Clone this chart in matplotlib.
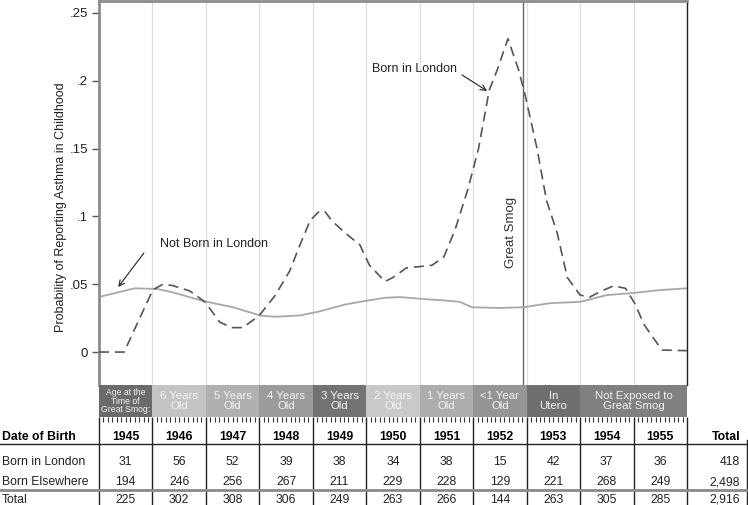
import numpy as np
import matplotlib
matplotlib.use("Agg")
from matplotlib import pyplot as plt

plt.rcParams['font.family'] = ['Liberation Sans', 'DejaVu Sans']

# Born in London (dashed)
london_x = [1945.0, 1945.47, 1945.75, 1946.01, 1946.2, 1946.38, 1946.7, 1946.98, 1947.26, 1947.49,
            1947.69, 1948.0, 1948.3, 1948.57, 1948.76, 1948.95, 1949.1, 1949.22, 1949.35, 1949.6,
            1949.88, 1950.06, 1950.35, 1950.5, 1950.75, 1951.0, 1951.23, 1951.45, 1951.66, 1951.9,
            1952.1, 1952.3, 1952.45, 1952.65, 1952.85, 1952.98, 1953.2, 1953.37, 1953.57, 1953.76,
            1954.0, 1954.18, 1954.4, 1954.62, 1954.85, 1955.02, 1955.2, 1955.53, 1956.0]
london_y = [0.0, 0.0, 0.024, 0.046, 0.050, 0.049, 0.045, 0.037, 0.022, 0.018,
            0.018, 0.027, 0.042, 0.060, 0.079, 0.097, 0.103, 0.104, 0.097, 0.088,
            0.079, 0.064, 0.052, 0.055, 0.062, 0.063, 0.064, 0.070, 0.090, 0.120,
            0.150, 0.193, 0.208, 0.231, 0.208, 0.188, 0.149, 0.112, 0.088, 0.055,
            0.042, 0.0405, 0.045, 0.0487, 0.047, 0.036, 0.020, 0.0015, 0.001]

# Not born in London (solid)
other_x = [1945.0, 1945.67, 1946.09, 1946.38, 1946.95, 1947.51, 1948.01, 1948.29, 1948.76, 1949.13,
           1949.6, 1949.88, 1950.35, 1950.63, 1951.1, 1951.47, 1951.75, 1951.98, 1952.5, 1952.93,
           1953.44, 1954.0, 1954.5, 1954.99, 1955.5, 1956.0]
other_y = [0.0406, 0.047, 0.0465, 0.044, 0.0376, 0.033, 0.027, 0.026, 0.027, 0.030,
           0.035, 0.037, 0.040, 0.0405, 0.039, 0.038, 0.037, 0.033, 0.0325, 0.033,
           0.036, 0.037, 0.042, 0.0435, 0.0457, 0.047]

years = list(range(1945, 1956))
born_london = [31, 56, 52, 39, 38, 34, 38, 15, 42, 37, 36]
born_elsewhere = [194, 246, 256, 267, 211, 229, 228, 129, 221, 268, 249]
totals = [225, 302, 308, 306, 249, 263, 266, 144, 263, 305, 285]
row_totals = ["418", "2,498", "2,916"]

# age bands: (start, end, label, colour)
band_start = [1945, 1946, 1947, 1948, 1949, 1950, 1951, 1952, 1953, 1954]
band_end = [1946, 1947, 1948, 1949, 1950, 1951, 1952, 1953, 1954, 1956]
band_label = ["Age at the\nTime of\nGreat Smog:", "6 Years\nOld", "5 Years\nOld", "4 Years\nOld",
              "3 Years\nOld", "2 Years\nOld", "1 Years\nOld", "<1 Year\nOld", "In\nUtero",
              "Not Exposed to\nGreat Smog"]
band_color = ['#6b6b6b', '#c4c4c4', '#b0b0b0', '#9b9b9b', '#737373', '#c9c9c9', '#adadad',
              '#959595', '#6f6f6f', '#808080']

smog_date = 1952.94

W, H = 748, 505
fig = plt.figure(figsize=(W / 100, H / 100), dpi=100)

# main plot
ax = fig.add_axes([99 / W, (H - 385) / H, 588 / W, 384 / H])
ax.set_xlim(1945, 1956)
ax.set_ylim(-0.0243, 0.2588)
for yr in range(1946, 1956):
    ax.axvline(yr, color='#dddddd', lw=0.9, zorder=0)
ax.axvline(smog_date, color='#666666', lw=1.0, zorder=1)
ax.text(smog_date - 0.23, 0.0885, "Great Smog", rotation=90, ha='center', va='center',
        fontsize=9.5, color='#333333')

ax.plot(other_x, other_y, color='#a8a8a8', lw=1.3, zorder=2)
ax.plot(london_x, london_y, color='#555555', lw=1.2, dashes=(6, 3.5), zorder=3)

arrow = dict(arrowstyle='->', color='#222222', lw=0.8, shrinkA=0, shrinkB=0)
ax.text(1950.11, 0.2085, "Born in London", fontsize=9, color='#222222', va='center', ha='left')
ax.annotate("", xy=(1952.26, 0.1925), xytext=(1951.79, 0.2043), arrowprops=arrow)
ax.text(1946.14, 0.0795, "Not Born in London", fontsize=9, color='#222222', va='center', ha='left')
ax.annotate("", xy=(1945.36, 0.048), xytext=(1945.84, 0.073), arrowprops=arrow)

ax.set_yticks([0, 0.05, 0.1, 0.15, 0.2, 0.25])
ax.set_yticklabels(["0", ".05", ".1", ".15", ".2", ".25"])
ax.tick_params(axis='y', length=5, width=1, color='#555555', labelsize=9.5, labelcolor='#222222', pad=3)
ax.set_xticks([])
ax.set_ylabel("Probability of Reporting Asthma in Childhood", fontsize=9, color='#222222')
ax.yaxis.set_label_coords(-0.054, 0.464)
ax.spines['left'].set_color('#8c8c8c')
ax.spines['left'].set_linewidth(2)
ax.spines['top'].set_color('#8c8c8c')
ax.spines['top'].set_linewidth(2)
ax.spines['right'].set_color('#222222')
ax.spines['right'].set_linewidth(1)
ax.spines['bottom'].set_visible(False)

# age band strip
bx = fig.add_axes([99 / W, (H - 417) / H, 588 / W, 32 / H])
bx.set_xlim(1945, 1956)
bx.set_ylim(0, 1)
for s, e, lab, c in zip(band_start, band_end, band_label, band_color):
    bx.bar(s, 1, width=e - s, align='edge', color=c, edgecolor='none')
    small = lab.startswith("Age")
    bx.text((s + e) / 2, 0.5, lab, ha='center', va='center', color='#f4f4f4',
            fontsize=6.2 if small else 8.2, linespacing=0.95 if small else 1.0)
months = [y + m / 12 for y in range(1945, 1956) for m in range(1, 12)]
bx.set_xticks(months, minor=True)
bx.set_xticks([])
bx.tick_params(axis='x', which='minor', length=3.5, width=0.8, color='#333333', direction='out')
bx.set_yticks([])
for sp in bx.spines.values():
    sp.set_visible(False)

# table below
tx = fig.add_axes([0, 0, 1, 88 / H])
px_per_year = 588 / 11
tx.set_xlim(1945 - 99 / px_per_year, 1956 + (W - 687) / px_per_year)
tx.set_ylim(H, 417)
tx.axis('off')
for yr in range(1945, 1957):
    tx.plot([yr, yr], [417, H], color='#222222', lw=1, solid_capstyle='butt')
right_edge = 1956 + (W - 1.5 - 687) / px_per_year
tx.plot([right_edge, right_edge], [440, H], color='#222222', lw=1)
left_edge = 1945 - 99 / px_per_year
tx.plot([left_edge, right_edge + 0.03], [444, 444], color='#222222', lw=1)
tx.plot([left_edge, right_edge + 0.03], [490, 490], color='#8a8a8a', lw=2)

fs = 8.8
r_year, r_lon, r_else, r_tot = 437.5, 462.5, 482.5, 500
tx.text(left_edge + 0.03, r_year, "Date of Birth", fontweight='bold', fontsize=fs, va='center', ha='left')
tx.text(left_edge + 0.03, r_lon, "Born in London", fontsize=fs, va='center', ha='left', color='#222222')
tx.text(left_edge + 0.03, r_else, "Born Elsewhere", fontsize=fs, va='center', ha='left', color='#222222')
tx.text(left_edge + 0.03, r_tot, "Total", fontsize=fs, va='center', ha='left', color='#222222')
for i, yr in enumerate(years):
    cx = yr + 0.5
    tx.text(cx, r_year, str(yr), fontweight='bold', fontsize=fs, va='center', ha='center')
    tx.text(cx, r_lon, str(born_london[i]), fontsize=fs, va='center', ha='center', color='#222222')
    tx.text(cx, r_else, str(born_elsewhere[i]), fontsize=fs, va='center', ha='center', color='#222222')
    tx.text(cx, r_tot, str(totals[i]), fontsize=fs, va='center', ha='center', color='#222222')
total_x = 1956 + (740 - 687) / px_per_year
tx.text(total_x, r_year, "Total", fontweight='bold', fontsize=fs, va='center', ha='right')
for yy, v in zip([r_lon, r_else, r_tot], row_totals):
    tx.text(total_x, yy, v, fontsize=fs, va='center', ha='right', color='#222222')

fig.savefig("out.png", dpi=100)
